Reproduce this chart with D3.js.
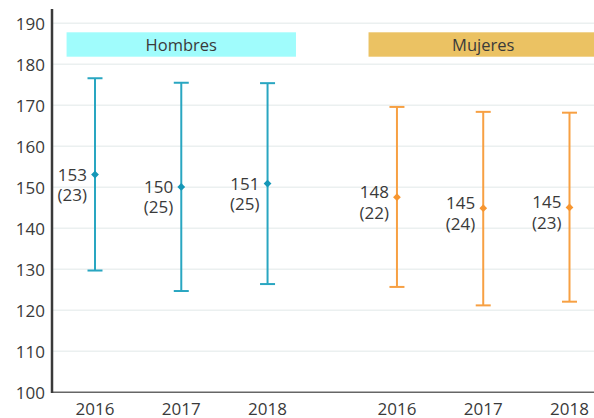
<!DOCTYPE html>
<html>
<head>
<meta charset="utf-8">
<script src="https://cdn.jsdelivr.net/npm/d3@7"></script>
<style>
  html, body { margin: 0; padding: 0; background: #fff; }
  svg { display: block; font-family: "Open Sans", sans-serif; }
</style>
</head>
<body>
<svg id="chart" width="594" height="418"></svg>
<script>
// ---- data ----
const groups = ["Hombres", "Mujeres"];
const years = ["2016", "2017", "2018"];
const hombresMean = [153.1, 150.1, 150.9];
const hombresLow = [129.7, 124.7, 126.4];
const hombresHigh = [176.6, 175.5, 175.4];
const hombresLabel = ["153", "150", "151"];
const hombresSD = ["(23)", "(25)", "(25)"];
const mujeresMean = [147.6, 144.9, 145.1];
const mujeresLow = [125.7, 121.2, 122.1];
const mujeresHigh = [169.6, 168.4, 168.2];
const mujeresLabel = ["148", "145", "145"];
const mujeresSD = ["(22)", "(24)", "(23)"];
const yTicks = [100, 110, 120, 130, 140, 150, 160, 170, 180, 190];

// ---- styles ----
const colors = { Hombres: { line: "#29a6c1", dot: "#1597b7", banner: "#a0fcfc" },
                 Mujeres: { line: "#f7a043", dot: "#f79630", banner: "#ebc263" } };
const labelShift = { Hombres: 0, Mujeres: -5 };
const textColor = "#3a3a3a";

const series = [
  { group: "Hombres", mean: hombresMean, low: hombresLow, high: hombresHigh, label: hombresLabel, sd: hombresSD },
  { group: "Mujeres", mean: mujeresMean, low: mujeresLow, high: mujeresHigh, label: mujeresLabel, sd: mujeresSD }
];
const points = [];
series.forEach((s, gi) => {
  years.forEach((yr, i) => {
    points.push({ group: s.group, year: yr, slot: gi * 3.5 + i,
      mean: s.mean[i], low: s.low[i], high: s.high[i], label: s.label[i], sd: s.sd[i] });
  });
});

const svg = d3.select("#chart");
const y = d3.scaleLinear().domain([100, 190]).range([392.3, 23.3]);
const x = d3.scaleLinear().domain([0, 5.5]).range([95, 569.5]);
const axisX = 52;

// gridlines
svg.append("g").selectAll("line").data(yTicks.filter(t => t > 100)).join("line")
  .attr("x1", axisX + 1).attr("x2", 594)
  .attr("y1", d => y(d)).attr("y2", d => y(d))
  .attr("stroke", "#ebf0f0").attr("stroke-width", 1.5);

// y tick labels
svg.append("g").selectAll("text").data(yTicks).join("text")
  .attr("x", 45).attr("y", d => y(d) + 7)
  .attr("text-anchor", "end").attr("font-size", 17).attr("fill", textColor)
  .text(d => d);

// banners
groups.forEach((g, gi) => {
  const cx = x(gi * 3.5 + 1);
  svg.append("rect").attr("x", cx - 114.7).attr("y", 32.3)
    .attr("width", 229.4).attr("height", 24.4).attr("fill", colors[g].banner);
  svg.append("text").attr("x", cx).attr("y", 50.8).attr("text-anchor", "middle")
    .attr("font-size", 16.5).attr("fill", textColor).text(g);
});

// axes
svg.append("line").attr("x1", axisX).attr("x2", 594).attr("y1", y(100)).attr("y2", y(100))
  .attr("stroke", "#666").attr("stroke-width", 1.5);
svg.append("line").attr("x1", axisX).attr("x2", axisX).attr("y1", y(193.5)).attr("y2", y(100) + 0.75)
  .attr("stroke", "#3a3a3a").attr("stroke-width", 2.5);

// x labels
svg.append("g").selectAll("text").data(points).join("text")
  .attr("x", d => x(d.slot)).attr("y", 414.5)
  .attr("text-anchor", "middle").attr("font-size", 17).attr("fill", textColor)
  .text(d => d.year);

// error bars
const eb = svg.append("g").selectAll("g").data(points).join("g");
eb.append("line").attr("x1", d => x(d.slot)).attr("x2", d => x(d.slot))
  .attr("y1", d => y(d.high)).attr("y2", d => y(d.low))
  .attr("stroke", d => colors[d.group].line).attr("stroke-width", 2);
eb.append("line").attr("x1", d => x(d.slot) - 7.5).attr("x2", d => x(d.slot) + 7.5)
  .attr("y1", d => y(d.high)).attr("y2", d => y(d.high))
  .attr("stroke", d => colors[d.group].line).attr("stroke-width", 2);
eb.append("line").attr("x1", d => x(d.slot) - 7.5).attr("x2", d => x(d.slot) + 7.5)
  .attr("y1", d => y(d.low)).attr("y2", d => y(d.low))
  .attr("stroke", d => colors[d.group].line).attr("stroke-width", 2);
eb.append("path")
  .attr("d", d3.symbol().type(d3.symbolSquare).size(30))
  .attr("transform", d => `translate(${x(d.slot)},${y(d.mean)}) rotate(45)`)
  .attr("fill", d => colors[d.group].dot);

// labels: value and SD as one two-line text
const lbl = eb.append("text")
  .attr("text-anchor", "end").attr("font-size", 17).attr("fill", textColor);
lbl.append("tspan").attr("x", d => x(d.slot) - 8)
  .attr("y", d => y(d.mean) + labelShift[d.group] + 6)
  .text(d => d.label);
lbl.append("tspan").attr("x", d => x(d.slot) - 8)
  .attr("y", d => y(d.mean) + labelShift[d.group] + 26.5)
  .text(d => d.sd);
</script>
</body>
</html>
